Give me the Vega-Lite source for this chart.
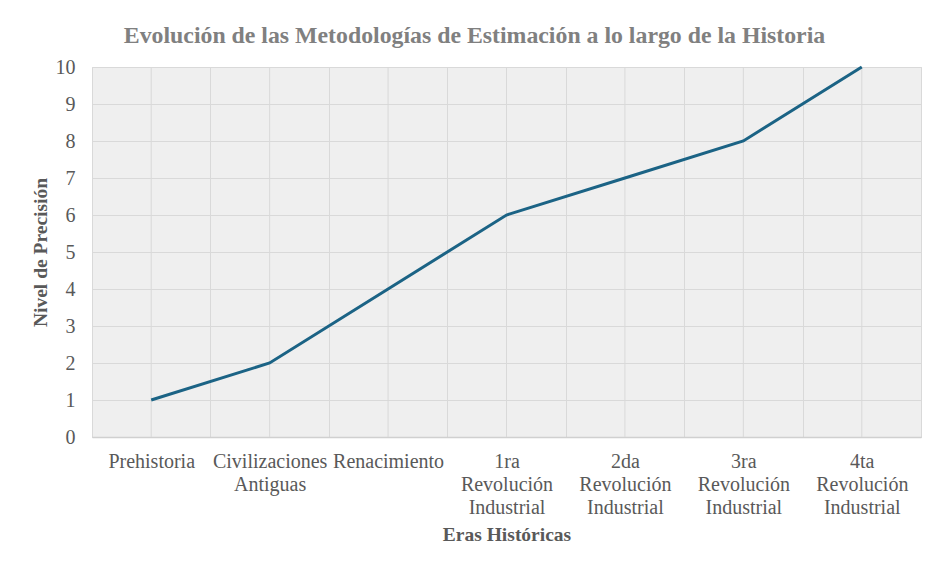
{
  "$schema": "https://vega.github.io/schema/vega-lite/v6.json",
  "width": 829,
  "height": 370,
  "autosize": {"type": "none"},
  "padding": {"left": 92, "top": 67, "right": 5, "bottom": 125},
  "background": "white",
  "config": {
    "font": "Liberation Serif",
    "view": {"fill": "#efefef", "stroke": "#d9d9d9", "strokeWidth": 1}
  },
  "title": {
    "text": "Evolución de las Metodologías de Estimación a lo largo de la Historia",
    "font": "Liberation Serif",
    "fontSize": 23.8,
    "fontWeight": "bold",
    "color": "#808080",
    "anchor": "middle",
    "frame": "group",
    "baseline": "bottom",
    "dx": -32,
    "dy": 26,
    "offset": 11
  },
  "data": {
    "values": [
      {"era": "Prehistoria", "nivel": 1},
      {"era": "Civilizaciones Antiguas", "nivel": 2},
      {"era": "Renacimiento", "nivel": 4},
      {"era": "1ra Revolución Industrial", "nivel": 6},
      {"era": "2da Revolución Industrial", "nivel": 7},
      {"era": "3ra Revolución Industrial", "nivel": 8},
      {"era": "4ta Revolución Industrial", "nivel": 10}
    ]
  },
  "layer": [
    {
      "mark": {"type": "rule", "color": "#d9d9d9", "strokeWidth": 1},
      "encoding": {
        "x": {"field": "era", "type": "nominal", "sort": null, "bandPosition": 0.5}
      }
    },
    {
      "mark": {"type": "line", "color": "#1b6385", "strokeWidth": 3},
      "encoding": {
        "x": {
          "field": "era",
          "type": "nominal",
          "sort": null,
          "bandPosition": 0.5,
          "scale": {"type": "band", "paddingInner": 0, "paddingOuter": 0},
          "axis": {
            "title": "Eras Históricas",
            "titleFont": "Liberation Serif",
            "titleFontSize": 19.5,
            "titleFontWeight": "bold",
            "titleColor": "#595959",
            "titleY": 103,
            "titleBaseline": "alphabetic",
            "labelAngle": 0,
            "labelAlign": "center",
            "labelFont": "Liberation Serif",
            "labelFontSize": 20,
            "labelColor": "#595959",
            "labelPadding": 14,
            "labelLineHeight": 23,
            "labelBaseline": "top",
            "labelExpr": "split(datum.label, ' ')",
            "labelOverlap": false,
            "labelBound": false,
            "labelLimit": 0,
            "ticks": false,
            "grid": true,
            "tickBand": "extent",
            "gridColor": "#d9d9d9",
            "gridWidth": 1,
            "domainColor": "#d0d0d0",
            "domainWidth": 1.5
          }
        },
        "y": {
          "field": "nivel",
          "type": "quantitative",
          "scale": {"domain": [0, 10], "nice": false, "zero": true},
          "axis": {
            "title": "Nivel de Precisión",
            "titleFont": "Liberation Serif",
            "titleFontSize": 19.5,
            "titleFontWeight": "bold",
            "titleColor": "#595959",
            "titleX": -52,
            "titleY": 185,
            "titleAngle": -90,
            "titleAlign": "center",
            "titleBaseline": "middle",
            "labelFont": "Liberation Serif",
            "labelFontSize": 20,
            "labelColor": "#595959",
            "labelPadding": 17,
            "values": [0, 1, 2, 3, 4, 5, 6, 7, 8, 9, 10],
            "ticks": false,
            "domain": false,
            "grid": true,
            "gridColor": "#d9d9d9",
            "gridWidth": 1
          }
        }
      }
    }
  ]
}
